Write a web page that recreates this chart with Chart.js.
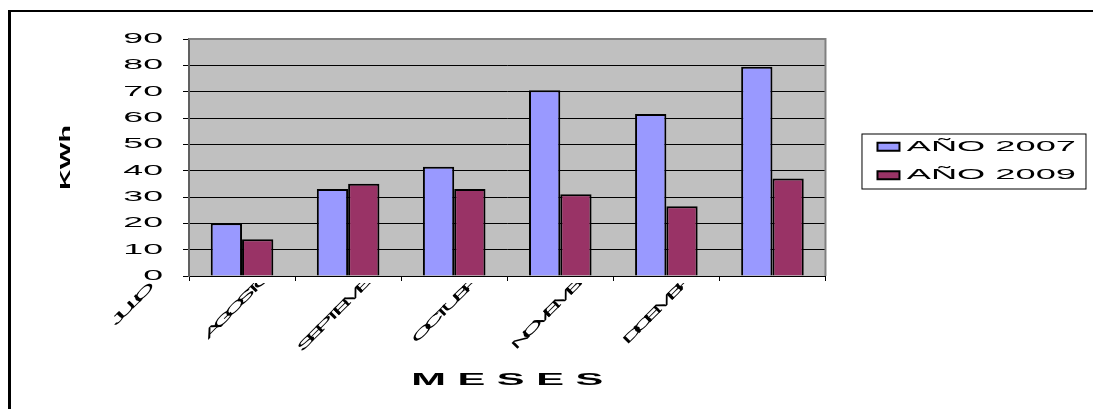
<!DOCTYPE html>
<html>
<head>
<meta charset="utf-8">
<script src="https://cdn.jsdelivr.net/npm/chart.js@4.4.1/dist/chart.umd.min.js"></script>
<style>
  html, body { margin: 0; padding: 0; background: #ffffff; }
  canvas { display: block; }
</style>
</head>
<body>
<canvas id="grafico" width="1093" height="409"></canvas>
<script>
// Consumo mensual (kWh) por año
const meses = ['JULIO', 'AGOSTO', 'SEPTIEMBRE', 'OCTUBRE', 'NOVIEMBRE', 'DICIEMBRE'];
const series = ['AÑO 2007', 'AÑO 2009'];
const kwh2007 = [20, 33, 41.5, 70.5, 61.5, 79.5];
const kwh2009 = [14, 35, 33, 31, 26.5, 37];
const yTicks = [0, 10, 20, 30, 40, 50, 60, 70, 80, 90];

const FONT = "'Liberation Sans', Arial, sans-serif";

// Wide lettering: every text run is stretched along its baseline by a factor
// chosen from the font size in use; the month names also get tight spacing.
const STRETCH = { '12': 2.7, '14': 2.55, '14.5': 2.5, '15': 1.9, '17': 2.45 };
const SPACING = { '12': -3.2 };
function fontKey(font) {
  const m = /(\d+(?:\.\d+)?)px/.exec(font);
  return m ? String(+m[1]) : '';
}

const canvas = document.getElementById('grafico');
const ctx2d = canvas.getContext('2d');
const nativeFill = ctx2d.fillText;
const nativeMeasure = ctx2d.measureText;
ctx2d.fillText = function (text, x, y, maxWidth) {
  const key = fontKey(this.font);
  const s = STRETCH[key] || 1;
  this.save();
  if (SPACING[key]) this.letterSpacing = SPACING[key] + 'px';
  this.translate(x, y);
  this.scale(s, 1);
  if (maxWidth === undefined) nativeFill.call(this, text, 0, 0);
  else nativeFill.call(this, text, 0, 0, maxWidth / s);
  this.restore();
};
ctx2d.measureText = function (text) {
  const m = nativeMeasure.call(this, text);
  const s = STRETCH[fontKey(this.font)] || 1;
  if (s === 1) return m;
  return {
    width: m.width * s,
    actualBoundingBoxLeft: m.actualBoundingBoxLeft * s,
    actualBoundingBoxRight: m.actualBoundingBoxRight * s,
    actualBoundingBoxAscent: m.actualBoundingBoxAscent,
    actualBoundingBoxDescent: m.actualBoundingBoxDescent
  };
};

// Page frame, grey plot area, plot border, legend box and the cut of the month labels
const marco = {
  id: 'marco',
  afterLayout(chart) {
    const lg = chart.legend;
    // gap between plot and legend; legend centred a little below the plot's middle
    lg.left += 38;
    lg.right += 38;
    lg.bottom = chart.chartArea.bottom + 7;
    lg.height = lg.bottom - lg.top;
  },
  beforeDraw(chart) {
    const { ctx, chartArea: a } = chart;
    ctx.save();
    ctx.fillStyle = '#ffffff';
    ctx.fillRect(0, 0, chart.width, chart.height);
    ctx.fillStyle = '#C0C0C0';
    ctx.fillRect(a.left, a.top, a.right - a.left, a.bottom - a.top);
    ctx.fillStyle = '#000000';
    ctx.fillRect(8, 10, 3, chart.height - 10);
    ctx.fillRect(8, 10, chart.width - 8, 2);
    ctx.restore();
    // month labels are centred on their anchor
    const items = chart.scales.x.getLabelItems(chart.chartArea);
    items.forEach(it => { if (it.options) it.options.textAlign = 'center'; });
  },
  beforeDatasetsDraw(chart) {
    const { ctx, chartArea: a } = chart;
    ctx.save();
    ctx.strokeStyle = '#808080';
    ctx.lineWidth = 2;
    ctx.beginPath();
    ctx.moveTo(a.left, a.top);
    ctx.lineTo(a.right, a.top);
    ctx.lineTo(a.right, a.bottom);
    ctx.stroke();
    ctx.restore();
  },
  afterDatasetsDraw(chart) {
    const { ctx, chartArea: a } = chart;
    ctx.save();
    ctx.beginPath();
    ctx.rect(0, a.bottom + 7, chart.width, chart.height);
    ctx.clip();
  },
  afterDraw(chart) {
    const ctx = chart.ctx;
    ctx.restore();
    const hb = chart.legend.legendHitBoxes;
    if (hb && hb.length) {
      const first = hb[0], last = hb[hb.length - 1];
      const x0 = first.left - 16;
      const y0 = first.top - 6;
      const y1 = last.top + last.height + 6;
      ctx.save();
      ctx.strokeStyle = '#000000';
      ctx.lineWidth = 1;
      ctx.strokeRect(x0 + 0.5, y0 + 0.5, 224, y1 - y0);
      ctx.restore();
    }
  }
};

new Chart(canvas, {
  type: 'bar',
  data: {
    labels: meses,
    datasets: [
      {
        label: series[0],
        data: kwh2007,
        backgroundColor: '#9999FF',
        borderColor: '#000000',
        borderWidth: 2,
        borderSkipped: 'start',
        categoryPercentage: 0.59,
        barPercentage: 1
      },
      {
        label: series[1],
        data: kwh2009,
        backgroundColor: '#993366',
        borderColor: '#000000',
        borderWidth: 2,
        borderSkipped: 'start',
        categoryPercentage: 0.59,
        barPercentage: 1
      }
    ]
  },
  options: {
    responsive: false,
    animation: false,
    events: [],
    layout: { padding: { left: 40, top: 39, right: 45, bottom: 0 } },
    plugins: {
      legend: {
        position: 'right',
        labels: {
          boxWidth: 22,
          boxHeight: 8,
          padding: 14,
          color: '#000000',
          font: { family: FONT, size: 14.5 }
        }
      },
      tooltip: { enabled: false }
    },
    scales: {
      x: {
        offset: true,
        grid: { offset: true, drawOnChartArea: false, drawTicks: true, tickLength: 5, color: '#000000' },
        border: { color: '#000000', width: 1 },
        ticks: {
          autoSkip: false,
          minRotation: 45,
          maxRotation: 45,
          labelOffset: -112,
          padding: 21,
          z: 1,
          color: '#000000',
          font: { family: FONT, size: 12 }
        },
        title: {
          display: true,
          text: 'M E S E S',
          color: '#000000',
          font: { family: FONT, size: 17, weight: 'bold' },
          padding: { top: 0, bottom: 18 }
        },
        afterFit(scale) { scale.height = 133; }
      },
      y: {
        min: 0,
        max: 90,
        afterBuildTicks(scale) { scale.ticks = yTicks.map(v => ({ value: v })); },
        ticks: { padding: 20, color: '#000000', font: { family: FONT, size: 14 } },
        grid: { color: '#000000', tickColor: '#000000', tickLength: 6, lineWidth: 1 },
        border: { color: '#606060', width: 2 },
        title: {
          display: true,
          text: 'KWh',
          color: '#000000',
          font: { family: FONT, size: 15, weight: 'bold' },
          padding: { top: 17, bottom: 0 }
        },
        afterFit(scale) { scale.width = 149; }
      }
    }
  },
  plugins: [marco]
});
</script>
</body>
</html>
